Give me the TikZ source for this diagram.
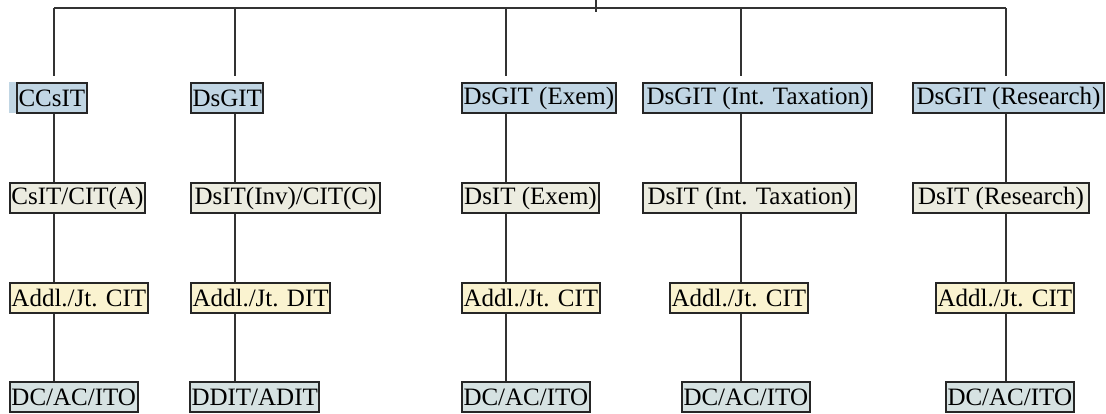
\documentclass[tikz,border=0pt]{standalone}
\usepackage{fontspec}
\setmainfont{Liberation Serif}
\definecolor{rowA}{HTML}{C1D6E4}
\definecolor{rowB}{HTML}{ECECE0}
\definecolor{rowC}{HTML}{FAF3D0}
\definecolor{rowD}{HTML}{D6E2E2}
\begin{document}
\begin{tikzpicture}[x=1pt,y=-1pt,
  box/.style={draw=black!85, line width=2pt, minimum height=30pt, inner xsep=1.5pt, inner ysep=0pt, anchor=west, font=\fontsize{25}{25}\selectfont},
  boxa/.style={box, fill=rowA},
  boxb/.style={box, fill=rowB},
  boxc/.style={box, fill=rowC},
  boxd/.style={box, fill=rowD},
  conn/.style={draw=black!80, line width=1.6pt}]
\useasboundingbox (0,0) rectangle (1106,413);
% column coordinates on the top bar
\coordinate (t1) at (54,8);
\coordinate (t2) at (235,8);
\coordinate (t3) at (506,8);
\coordinate (t4) at (741,8);
\coordinate (t5) at (1006,8);
\coordinate (s0) at (596,0);
\coordinate (s1) at (596,12);
% strip left of CCsIT
\fill[rowA] (9,82) rectangle (17,113);
% row 1
\node[boxa, minimum width=68pt]  (a1) at (16,98)  {CCsIT};
\node[boxa, minimum width=69pt]  (a2) at (190,98) {DsGIT};
\node[boxa, minimum width=152pt] (a3) at (461,98) {DsGIT (Exem)};
\node[boxa, minimum width=229pt] (a4) at (642,98) {DsGIT (Int. Taxation)};
\node[boxa, minimum width=191pt] (a5) at (912,98) {DsGIT (Research)};
% row 2
\node[boxb, minimum width=134pt] (b1) at (9,198)   {CsIT/CIT(A)};
\node[boxb, minimum width=189pt] (b2) at (190,198) {DsIT(Inv)/CIT(C)};
\node[boxb, minimum width=137pt] (b3) at (461,198) {DsIT (Exem)};
\node[boxb, minimum width=213pt] (b4) at (642,198) {DsIT (Int. Taxation)};
\node[boxb, minimum width=176pt] (b5) at (912,198) {DsIT (Research)};
% row 3
\node[boxc, minimum width=134pt] (c1) at (9,297.5)   {Addl./Jt. CIT};
\node[boxc, minimum width=136pt] (c2) at (190,297.5) {Addl./Jt. DIT};
\node[boxc, minimum width=134pt] (c3) at (461,297.5) {Addl./Jt. CIT};
\node[boxc, minimum width=134pt] (c4) at (669,297.5) {Addl./Jt. CIT};
\node[boxc, minimum width=134pt] (c5) at (935,297.5) {Addl./Jt. CIT};
% row 4
\node[boxd, minimum width=127pt] (d1) at (9,397)   {DC/AC/ITO};
\node[boxd, minimum width=126pt] (d2) at (189,397) {DDIT/ADIT};
\node[boxd, minimum width=126pt] (d3) at (461,397) {DC/AC/ITO};
\node[boxd, minimum width=126pt] (d4) at (681,397) {DC/AC/ITO};
\node[boxd, minimum width=127pt] (d5) at (945,397) {DC/AC/ITO};
% connectors
\draw[conn] (t1) -- (t5);
\draw[conn] (s0) -- (s1);
\foreach \i in {1,...,5} {
  \draw[conn, shorten >=6pt] (t\i) -- (t\i |- a\i.north);
  \draw[conn] (t\i |- a\i.south) -- (t\i |- b\i.north);
  \draw[conn] (t\i |- b\i.south) -- (t\i |- c\i.north);
  \draw[conn] (t\i |- c\i.south) -- (t\i |- d\i.north);
}
\end{tikzpicture}
\end{document}
